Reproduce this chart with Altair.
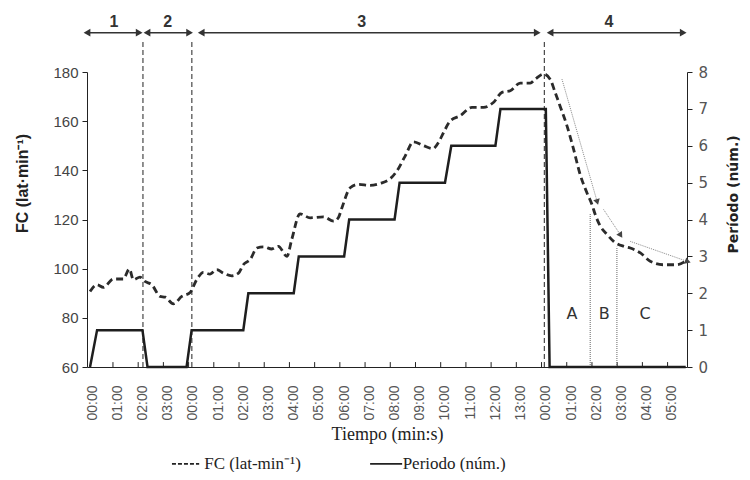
import math
import altair as alt
import pandas as pd

# ---------------- data ----------------
# continuous time (minutes) along the x axis, FC (lat/min)
fc_t = [-0.08, 0.19, 0.45, 0.85, 1.24, 1.48, 1.64, 1.90, 2.10, 2.37, 2.70, 2.90, 3.23, 3.56,
        3.89, 4.15, 4.42, 4.68, 4.95, 5.21, 5.54, 5.81, 6.00, 6.27, 6.54, 6.80, 7.13, 7.39,
        7.73, 7.92, 8.25, 8.65, 9.18, 9.58, 9.77, 9.91, 10.24, 10.57, 11.03, 11.43, 11.83,
        12.09, 12.42, 12.75, 13.15, 13.52, 13.74, 13.94, 14.21, 14.60, 15.07, 15.53, 15.92,
        16.26, 16.59, 16.98, 17.38, 17.58, 17.91, 18.17, 18.37, 18.57, 18.84, 19.10, 19.37,
        19.63, 19.83, 19.96, 20.16, 20.43, 20.69, 21.09, 21.35, 21.75, 22.14, 22.67, 23.20, 23.53]
fc_v = [90.7, 93.5, 92.4, 95.8, 95.8, 99.9, 95.5, 96.6, 94.8, 93.5, 88.7, 88.4, 85.7, 88.7,
        90.3, 95.5, 98.5, 97.8, 99.6, 98.2, 97.1, 98.2, 101.6, 103.7, 108.4, 108.9, 108.0, 109.1,
        105.0, 111.8, 122.3, 120.7, 121.1, 119.3, 120.7, 124.7, 132.9, 134.3, 133.9, 134.7, 136.6,
        139.7, 145.8, 151.6, 150.0, 148.8, 151.3, 155.3, 160.1, 162.2, 165.6, 165.6, 167.6,
        171.7, 172.4, 175.5, 175.5, 177.1, 179.2, 177.1, 171.7, 166.0, 158.1, 148.6, 138.0,
        130.9, 126.1, 122.0, 117.3, 113.9, 111.1, 109.1, 108.4, 106.4, 103.0, 101.6, 101.6, 103.0]

# period (step) series
per_t = [-0.08, 0.2, 2.0, 2.2, 3.75, 3.95, 6.0, 6.2, 8.0, 8.2, 10.0, 10.2, 12.0, 12.2,
         14.0, 14.25, 16.0, 16.2, 18.0, 18.15, 23.55]
per_v = [0, 1, 1, 0, 0, 1, 1, 2, 2, 3, 3, 4, 4, 5, 5, 6, 6, 7, 7, 0, 0]

# x tick labels (time restarts in every phase)
tick_t = list(range(24))
tick_labels = ["00:00", "01:00", "02:00", "03:00",
               "00:00", "01:00", "02:00", "03:00", "04:00", "05:00", "06:00", "07:00",
               "08:00", "09:00", "10:00", "11:00", "12:00", "13:00",
               "00:00", "01:00", "02:00", "03:00", "04:00", "05:00"]
minor_tick_t = [k + 0.83 for k in range(23)]

# phases on top
phase_labels = ["1", "2", "3", "4"]
phase_label_t = [0.87, 3.0, 10.7, 20.5]
phase_start = [-0.2, 2.18, 4.33, 18.17]
phase_end = [1.87, 3.87, 17.66, 23.45]
divider_t = [2.02, 3.96, 17.94]

# recovery zones
zone_labels = ["A", "B", "C"]
zone_label_t = [19.04, 20.32, 21.94]
zone_line_t = [19.76, 20.82]
zone_line_top = [122.2, 108.9]

# grey trend arrows
garrow_t0 = [18.64, 20.29, 21.35]
garrow_v0 = [177.1, 124.1, 111.1]
garrow_t1 = [20.03, 20.95, 23.60]
garrow_v1 = [127.5, 113.9, 103.0]

# ---------------- layout ----------------
W, H = 600, 295
X_DOMAIN = [-0.2, 23.6]
FC_DOMAIN = [60, 180]
PX_X = W / (X_DOMAIN[1] - X_DOMAIN[0])
PX_Y = H / (FC_DOMAIN[1] - FC_DOMAIN[0])

x_scale = alt.Scale(domain=X_DOMAIN, nice=False, zero=False)
fc_scale = alt.Scale(domain=FC_DOMAIN, nice=False, zero=False)
xn = alt.X("t:Q", scale=x_scale)


def yn(field):
    return alt.Y(field, type="quantitative", scale=fc_scale)


label_array = "[" + ",".join("'%s'" % s for s in tick_labels) + "]"

# FC line with left + bottom axes
fc_df = pd.DataFrame({"t": fc_t, "fc": fc_v})
fc_line = alt.Chart(fc_df).mark_line(
    color="#2b2b2b", strokeWidth=2.8, strokeDash=[7, 4], interpolate="monotone"
).encode(
    x=alt.X("t:Q", scale=x_scale, axis=alt.Axis(
        values=tick_t, tickCount=40, labelExpr=label_array + "[datum.value]", labelAngle=270,
        labelAlign="right", labelBaseline="middle", labelPadding=18, ticks=False,
        labelOverlap=False, labelBound=False, labelFlush=False, labelSeparation=0,
        labelFont="Liberation Sans", labelFontSize=14, labelColor="#555",
        domainColor="#222", grid=False, title="Tiempo (min:s)",
        titleFont="Liberation Serif", titleFontSize=18, titleFontWeight="normal",
        titleColor="#222", titlePadding=5)),
    y=alt.Y("fc:Q", scale=fc_scale, axis=alt.Axis(
        values=[60, 80, 100, 120, 140, 160, 180], tickCount=20, format="d",
        tickSize=5, tickColor="#222",
        domainColor="#222", grid=False, labelFont="Liberation Sans", labelFontSize=15,
        labelColor="#444", labelPadding=4, title="FC (lat·min⁻¹)",
        titleFont="Liberation Sans", titleFontSize=16, titleFontWeight="bold",
        titleColor="#222", titleAngle=270, titleX=-65, titleY=111,
        titleAlign="center", titleBaseline="middle")),
)

# bottom inner ticks
mt_df = pd.DataFrame({"t": minor_tick_t, "y0": [60] * len(minor_tick_t),
                      "y1": [62] * len(minor_tick_t)})
minor_ticks = alt.Chart(mt_df).mark_rule(color="#222", strokeWidth=1).encode(
    x=xn, y=yn("y0"), y2="y1")

# phase dividers (dashed)
div_df = pd.DataFrame({"t": divider_t, "y0": [60] * 3, "y1": [192.6] * 3})
dividers = alt.Chart(div_df).mark_rule(color="#222", strokeWidth=1, strokeDash=[5, 3]).encode(
    x=xn, y=yn("y0"), y2="y1")

# phase arrows
TOP_Y = 196.0
pa_df = pd.DataFrame({"t": phase_start, "t2": phase_end, "y": [TOP_Y] * 4})
phase_lines = alt.Chart(pa_df).mark_rule(color="#333", strokeWidth=1.5).encode(
    x=xn, x2="t2", y=yn("y"))
head_l = alt.Chart(pd.DataFrame({"t": phase_start, "y": [TOP_Y] * 4})).mark_point(
    shape="triangle-left", filled=True, color="#333", size=60, opacity=1).encode(x=xn, y=yn("y"))
head_r = alt.Chart(pd.DataFrame({"t": phase_end, "y": [TOP_Y] * 4})).mark_point(
    shape="triangle-right", filled=True, color="#333", size=60, opacity=1).encode(x=xn, y=yn("y"))
pl_df = pd.DataFrame({"t": phase_label_t, "y": [200.5] * 4, "label": phase_labels})
phase_text = alt.Chart(pl_df).mark_text(
    font="Liberation Sans", fontSize=16, fontWeight="bold", color="#333", baseline="middle"
).encode(x=xn, y=yn("y"), text="label:N")

# zone lines (dotted) and labels
zl_df = pd.DataFrame({"t": zone_line_t, "y0": [60] * 2, "y1": zone_line_top})
zone_lines = alt.Chart(zl_df).mark_rule(color="#666", strokeWidth=1, strokeDash=[1, 1]).encode(
    x=xn, y=yn("y0"), y2="y1")
zt_df = pd.DataFrame({"t": zone_label_t, "y": [81.6] * 3, "label": zone_labels})
zone_text = alt.Chart(zt_df).mark_text(
    font="DejaVu Sans", fontSize=16, color="#333", baseline="middle"
).encode(x=xn, y=yn("y"), text="label:N")

# grey trend arrows
angles = []
for a0, b0, a1, b1 in zip(garrow_t0, garrow_v0, garrow_t1, garrow_v1):
    dx = (a1 - a0) * PX_X
    dy = -(b1 - b0) * PX_Y
    angles.append(math.degrees(math.atan2(dx, -dy)) % 360)
ga_df = pd.DataFrame({"t": garrow_t0, "t2": garrow_t1, "y": garrow_v0, "y2": garrow_v1})
garrow_lines = alt.Chart(ga_df).mark_rule(color="#888", strokeWidth=1, strokeDash=[1, 1]).encode(
    x=xn, x2="t2", y=yn("y"), y2="y2")
gh_df = pd.DataFrame({"t": garrow_t1, "y": garrow_v1, "ang": angles})
garrow_heads = alt.Chart(gh_df).mark_point(
    shape="triangle", filled=True, color="#444", size=45, opacity=1
).encode(x=xn, y=yn("y"), angle=alt.Angle("ang:Q", scale=None))

# legend (drawn below the axis title)
LEG_Y = 20.6
leg_rules = pd.DataFrame({"t": [3.17, 11.03], "t2": [4.25, 12.3], "y": [LEG_Y, LEG_Y],
                          "s": ["FC", "P"]})
leg_dash = alt.Chart(leg_rules[leg_rules.s == "FC"]).mark_rule(
    color="#222", strokeWidth=1.8, strokeDash=[4, 2]).encode(x=xn, x2="t2", y=yn("y"))
leg_solid = alt.Chart(leg_rules[leg_rules.s == "P"]).mark_rule(
    color="#222", strokeWidth=1.8).encode(x=xn, x2="t2", y=yn("y"))
leg_txt = pd.DataFrame({"t": [4.45, 12.32], "y": [LEG_Y, LEG_Y],
                        "label": ["FC (lat-min⁻¹)", "Periodo (núm.)"]})
leg_text = alt.Chart(leg_txt).mark_text(
    font="Liberation Serif", fontSize=17, color="#222", align="left", baseline="middle"
).encode(x=xn, y=yn("y"), text="label:N")

# period step line with right axis
per_df = pd.DataFrame({"t": per_t, "p": per_v})
per_line = alt.Chart(per_df).mark_line(color="#1e1e1e", strokeWidth=2.5).encode(
    x=xn,
    y=alt.Y("p:Q", scale=alt.Scale(domain=[0, 8], nice=False, zero=False), axis=alt.Axis(
        orient="right", values=list(range(9)), tickCount=20, format="d",
        tickSize=5, tickColor="#222",
        domainColor="#222", grid=False, labelFont="DejaVu Sans", labelFontSize=15,
        labelColor="#555", labelPadding=6, title="Período (núm.)",
        titleFont="DejaVu Sans", titleFontSize=14, titleFontWeight="bold",
        titleColor="#222", titleAngle=270, titleX=46, titleY=122,
        titleAlign="center", titleBaseline="middle")),
)

fc_layers = alt.layer(
    fc_line, minor_ticks, dividers, phase_lines, head_l, head_r, phase_text,
    zone_lines, zone_text, garrow_lines, garrow_heads, leg_dash, leg_solid, leg_text,
)

chart = alt.layer(fc_layers, per_line).resolve_scale(y="independent").properties(
    width=W, height=H,
    background="white",
    autosize=alt.AutoSizeParams(type="none"),
    padding={"left": 79, "top": 64, "right": 55, "bottom": 105},
).configure_view(strokeWidth=0).configure_axisX(labelOverlap=False, grid=False)

chart.save("out.html", embed_options={"renderer": "svg", "actions": False})
